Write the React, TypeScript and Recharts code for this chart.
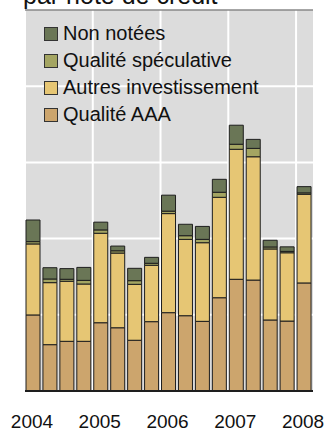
import { BarChart, Bar, XAxis, YAxis, CartesianGrid, Legend, ReferenceLine } from 'recharts'

// ── Data ──────────────────────────────────────────────────────────────────────

// 17 quarters, 2004 T1 → 2008 T1
const quarters = [
  '2004T1', '2004T2', '2004T3', '2004T4',
  '2005T1', '2005T2', '2005T3', '2005T4',
  '2006T1', '2006T2', '2006T3', '2006T4',
  '2007T1', '2007T2', '2007T3', '2007T4',
  '2008T1',
]
const qualiteAAA = [49.9, 30.4, 32.6, 32.6, 44.8, 41.5, 33.3, 45.5, 51.4, 49.4, 45.7, 61.2, 73.3, 72.8, 46.6, 45.9, 70.9]
const autresInvest = [46.6, 40.7, 39.4, 37.6, 58.7, 49.0, 36.7, 37.0, 65.0, 50.1, 51.6, 65.9, 85.3, 80.9, 46.6, 44.8, 58.2]
const speculative = [1.5, 2.4, 1.3, 2.4, 2.2, 1.5, 2.4, 1.3, 1.6, 2.4, 2.2, 3.3, 3.3, 5.5, 1.3, 0.9, 0.9]
const nonNotees = [14.2, 7.4, 7.0, 8.5, 5.1, 3.1, 8.1, 3.9, 10.5, 7.5, 8.5, 8.5, 12.5, 5.9, 4.4, 3.0, 4.1]

const yearTicks = [0, 4, 8, 12, 16]
const yearLabels = ['2004', '2005', '2006', '2007', '2008']
const yMax = 250
const yGridValues = [50, 100, 150, 200]

const data = quarters.map((q, i) => ({
  q,
  x: i + 0.5,
  aaa: qualiteAAA[i],
  autres: autresInvest[i],
  spec: speculative[i],
  nn: nonNotees[i],
}))

// ── Style ─────────────────────────────────────────────────────────────────────

const FONT = '"Liberation Sans", Arial, sans-serif'
const C_AAA = '#cca56d'
const C_AUTRES = '#e6c674'
const C_SPEC = '#a4a562'
const C_NN = '#6a7656'
const EDGE = '#1e1e1e'

// legend reads top → bottom, reverse of the stack
const legendItems = [
  { name: 'Non notées', color: C_NN },
  { name: 'Qualité spéculative', color: C_SPEC },
  { name: 'Autres investissement', color: C_AUTRES },
  { name: 'Qualité AAA', color: C_AAA },
]

function YearTick({ x, y, payload }: any) {
  const idx = yearTicks.indexOf(payload.value)
  return (
    <text x={x} y={y} dx={7} dy={37} textAnchor="middle" fontSize={19} fontFamily={FONT} fill="#111">
      {yearLabels[idx]}
    </text>
  )
}

function LegendBox() {
  return (
    <div style={{ fontFamily: FONT, fontSize: 20, color: '#111' }}>
      {legendItems.map((e) => (
        <div key={e.name} style={{ display: 'flex', alignItems: 'center', height: 27 }}>
          <span
            style={{
              display: 'inline-block',
              width: 12,
              height: 12,
              background: e.color,
              border: '1px solid #333',
              marginRight: 5,
            }}
          />
          <span>{e.name}</span>
        </div>
      ))}
    </div>
  )
}

export default function App() {
  return (
    <div style={{ position: 'absolute', left: 0, top: 0, width: 327, height: 433, background: '#fff', overflow: 'hidden' }}>
      <div
        style={{
          position: 'absolute',
          left: 23,
          top: -17,
          fontFamily: FONT,
          fontSize: 25,
          lineHeight: '25px',
          color: '#111',
          whiteSpace: 'nowrap',
        }}
      >
        par note de crédit
      </div>
      <BarChart
        width={327}
        height={433}
        data={data}
        margin={{ top: 10, right: 14, bottom: 0, left: 25 }}
        barSize={14}
      >
        <CartesianGrid
          stroke="#ffffff"
          strokeWidth={2}
          fill="#dcdcdc"
          xAxisId="x"
          yAxisId="l"
          horizontal={false}
          verticalValues={yearTicks}
        />
        {yGridValues.map((v) => (
          <ReferenceLine key={v} y={v} xAxisId="x" yAxisId="l" stroke="#ffffff" strokeWidth={2} zIndex={0} />
        ))}
        <XAxis
          xAxisId="x"
          type="number"
          dataKey="x"
          domain={[0, 17]}
          ticks={yearTicks}
          interval={0}
          height={42}
          tickLine={false}
          tickSize={0}
          tickMargin={0}
          axisLine={{ stroke: EDGE, strokeWidth: 2 }}
          tick={<YearTick />}
        />
        <YAxis
          yAxisId="l"
          domain={[0, yMax]}
          width={0}
          tick={false}
          tickLine={false}
          axisLine={{ stroke: '#777', strokeWidth: 1.5 }}
        />
        <YAxis
          yAxisId="r"
          orientation="right"
          domain={[0, yMax]}
          width={0}
          tick={false}
          tickLine={false}
          axisLine={{ stroke: '#333', strokeWidth: 2.5 }}
        />
        <Legend
          layout="vertical"
          align="center"
          verticalAlign="middle"
          content={<LegendBox />}
          wrapperStyle={{ top: 20, left: 44, width: 'auto', height: 'auto' }}
        />
        <Bar xAxisId="x" yAxisId="l" dataKey="aaa" name="Qualité AAA" stackId="s" fill={C_AAA} stroke={EDGE} strokeWidth={1} isAnimationActive={false} />
        <Bar xAxisId="x" yAxisId="l" dataKey="autres" name="Autres investissement" stackId="s" fill={C_AUTRES} stroke={EDGE} strokeWidth={1} isAnimationActive={false} />
        <Bar xAxisId="x" yAxisId="l" dataKey="spec" name="Qualité spéculative" stackId="s" fill={C_SPEC} stroke={EDGE} strokeWidth={1} isAnimationActive={false} />
        <Bar xAxisId="x" yAxisId="l" dataKey="nn" name="Non notées" stackId="s" fill={C_NN} stroke={EDGE} strokeWidth={1} isAnimationActive={false} />
        <ReferenceLine y={yMax} xAxisId="x" yAxisId="l" stroke="#888" strokeWidth={1.5} />
      </BarChart>
    </div>
  )
}
